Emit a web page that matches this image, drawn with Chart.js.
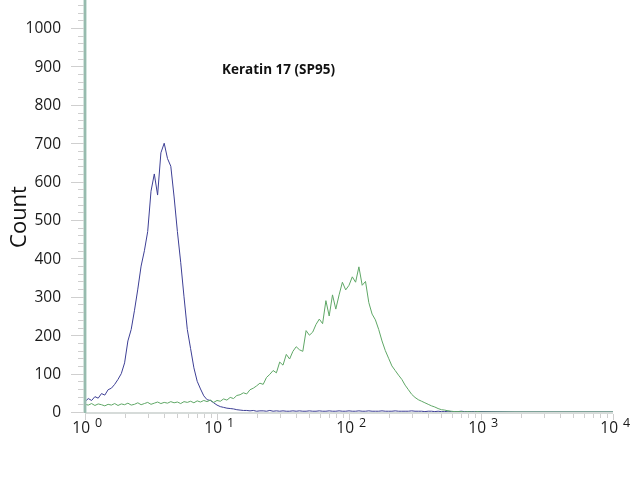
<!DOCTYPE html>
<html>
<head>
<meta charset="utf-8">
<script src="https://cdn.jsdelivr.net/npm/chart.js@4.4.1/dist/chart.umd.min.js"></script>
<style>
  html, body { margin: 0; padding: 0; background: #ffffff; }
  #wrap { width: 640px; height: 480px; }
</style>
</head>
<body>
<div id="wrap"><canvas id="c" width="640" height="480"></canvas></div>
<script>
// Fluorescence intensity, in decades (log10 of intensity): 0 = 10^0 ... 4 = 10^4
const logIntensity = [
  0.000, 0.025, 0.050, 0.075, 0.100, 0.125, 0.150, 0.175, 0.200, 0.225,
  0.250, 0.275, 0.300, 0.325, 0.350, 0.375, 0.400, 0.425, 0.450, 0.475,
  0.500, 0.525, 0.550, 0.575, 0.600, 0.625, 0.650, 0.675, 0.700, 0.725,
  0.750, 0.775, 0.800, 0.825, 0.850, 0.875, 0.900, 0.925, 0.950, 0.975,
  1.000, 1.025, 1.050, 1.075, 1.100, 1.125, 1.150, 1.175, 1.200, 1.225,
  1.250, 1.275, 1.300, 1.325, 1.350, 1.375, 1.400, 1.425, 1.450, 1.475,
  1.500, 1.525, 1.550, 1.575, 1.600, 1.625, 1.650, 1.675, 1.700, 1.725,
  1.750, 1.775, 1.800, 1.825, 1.850, 1.875, 1.900, 1.925, 1.950, 1.975,
  2.000, 2.025, 2.050, 2.075, 2.100, 2.125, 2.150, 2.175, 2.200, 2.225,
  2.250, 2.275, 2.300, 2.325, 2.350, 2.375, 2.400, 2.425, 2.450, 2.475,
  2.500, 2.525, 2.550, 2.575, 2.600, 2.625, 2.650, 2.675, 2.700, 2.725,
  2.750, 2.775, 2.800, 2.825, 2.850, 2.875, 2.900, 2.925, 2.950, 2.975,
  3.000, 3.250, 3.500, 3.750, 4.000
];

// Isotype control (blue)
const isotypeCounts = [
  27, 35, 30, 40, 36, 48, 44, 58, 62, 72,
  85, 100, 128, 185, 215, 265, 320, 380, 420, 470,
  575, 620, 565, 675, 700, 660, 640, 560, 470, 390,
  300, 215, 165, 115, 80, 60, 42, 32, 30, 24,
  18, 14, 12, 10, 9, 8, 6, 5, 4, 4,
  3, 4, 2, 3, 3, 2, 4, 2, 3, 2,
  3, 2, 2, 3, 2, 3, 2, 2, 3, 2,
  2, 3, 2, 2, 3, 2, 2, 3, 2, 2,
  3, 2, 2, 3, 2, 2, 3, 2, 2, 2,
  3, 2, 2, 2, 3, 2, 2, 2, 2, 3,
  2, 2, 2, 1, 2, 2, 1, 2, 1, 1,
  2, 1, 1, 1, 2, 1, 1, 1, 1, 1,
  1, 0, 0, 0, 0
];

// Keratin 17 (SP95) stained (green)
const keratinCounts = [
  20, 18, 22, 17, 21, 19, 16, 20, 18, 22,
  17, 21, 19, 23, 18, 20, 24, 19, 22, 25,
  20, 23, 26, 22, 25, 23, 27, 24, 26, 22,
  27, 25, 28, 24, 29, 26, 30, 27, 31, 25,
  30, 28, 34, 31, 38, 35, 43, 45, 50, 47,
  58, 62, 68, 75, 72, 90, 98, 108, 102, 130,
  122, 150, 138, 158, 170, 162, 158, 212, 200, 208,
  228, 242, 230, 290, 250, 305, 268, 305, 338, 318,
  330, 352, 338, 378, 330, 340, 285, 255, 240, 215,
  185, 160, 140, 120, 108, 96, 85, 70, 58, 46,
  38, 32, 28, 24, 20, 16, 13, 9, 6, 5,
  3, 2, 1, 1, 1, 0, 1, 0, 0, 1,
  0, 0, 0, 0, 0
];

const yTickValues = [0, 100, 200, 300, 400, 500, 600, 700, 800, 900, 1000];
const xDecades = [0, 1, 2, 3, 4];
const chartTitle = 'Keratin 17 (SP95)';
const yAxisTitle = 'Count';

const toPoints = (xs, ys) => xs.map((x, i) => ({ x: x, y: ys[i] }));

const decorPlugin = {
  id: 'decor',
  afterDatasetsDraw(chart) {
    const ctx = chart.ctx;
    const xs = chart.scales.x;
    const ys = chart.scales.y;
    const left = xs.getPixelForValue(0);
    const right = xs.getPixelForValue(4);
    const base = ys.getPixelForValue(0);
    ctx.save();

    // x axis line
    ctx.strokeStyle = '#c9cfcc';
    ctx.lineWidth = 1.5;
    ctx.beginPath();
    ctx.moveTo(left, base + 1);
    ctx.lineTo(right, base + 1);
    ctx.stroke();

    // y axis line (teal)
    ctx.strokeStyle = '#a8c9bd';
    ctx.lineWidth = 3;
    ctx.beginPath();
    ctx.moveTo(left, 0);
    ctx.lineTo(left, base + 1);
    ctx.stroke();
    ctx.strokeStyle = '#86ad9f';
    ctx.lineWidth = 1;
    ctx.beginPath();
    ctx.moveTo(left, 0);
    ctx.lineTo(left, base + 1);
    ctx.stroke();

    // y ticks: major every 100, minor every 20
    ctx.strokeStyle = '#cfcfcf';
    ctx.lineWidth = 1;
    for (let v = 0; v <= 1060; v += 20) {
      const py = Math.round(ys.getPixelForValue(v)) + 0.5;
      const len = (v % 100 === 0) ? 13 : 6;
      ctx.beginPath();
      ctx.moveTo(left - 1 - len, py);
      ctx.lineTo(left - 1, py);
      ctx.stroke();
    }

    // y labels
    ctx.fillStyle = '#1a1a1a';
    ctx.font = '15.5px "Open Sans", "DejaVu Sans", sans-serif';
    ctx.textAlign = 'right';
    ctx.textBaseline = 'middle';
    yTickValues.forEach(v => {
      ctx.fillText(String(v), 61, ys.getPixelForValue(v) + 1);
    });

    // x minor ticks at 2..9 in each decade, major at decades
    ctx.strokeStyle = '#cfcfcf';
    for (let n = 0; n < 4; n++) {
      for (let k = 2; k <= 9; k++) {
        const px = Math.round(xs.getPixelForValue(n + Math.log10(k))) + 0.5;
        ctx.beginPath();
        ctx.moveTo(px, base + 2);
        ctx.lineTo(px, base + 6);
        ctx.stroke();
      }
    }
    xDecades.forEach(n => {
      const px = Math.round(xs.getPixelForValue(n)) + 0.5;
      ctx.beginPath();
      ctx.moveTo(px, base + 2);
      ctx.lineTo(px, base + 8);
      ctx.stroke();
    });

    // x labels: 10 with superscript exponent
    ctx.fillStyle = '#1a1a1a';
    xDecades.forEach(n => {
      const px = xs.getPixelForValue(n);
      ctx.font = '15.5px "Open Sans", "DejaVu Sans", sans-serif';
      ctx.textAlign = 'right';
      ctx.textBaseline = 'middle';
      ctx.fillText('10', px + 5, base + 17);
      ctx.font = '12.5px "Open Sans", "DejaVu Sans", sans-serif';
      ctx.textAlign = 'left';
      ctx.fillText(String(n), px + 10, base + 11);
    });

    // y axis title
    ctx.save();
    ctx.translate(20, 217);
    ctx.rotate(-Math.PI / 2);
    ctx.font = '22px "Open Sans", "DejaVu Sans", sans-serif';
    ctx.textAlign = 'center';
    ctx.textBaseline = 'middle';
    ctx.fillStyle = '#111111';
    ctx.fillText(yAxisTitle, 0, 0);
    ctx.restore();

    // in-plot title
    ctx.font = 'bold 13.5px "Open Sans", "DejaVu Sans", sans-serif';
    ctx.textAlign = 'left';
    ctx.textBaseline = 'middle';
    ctx.fillStyle = '#111111';
    ctx.fillText(chartTitle, xs.getPixelForValue(1.038), ys.getPixelForValue(890));

    ctx.restore();
  }
};

new Chart(document.getElementById('c'), {
  type: 'line',
  data: {
    datasets: [
      {
        label: 'Keratin 17 (SP95)',
        data: toPoints(logIntensity, keratinCounts),
        borderColor: '#5fa766',
        borderWidth: 1,
        pointRadius: 0,
        tension: 0,
        fill: false
      },
      {
        label: 'Isotype control',
        data: toPoints(logIntensity, isotypeCounts),
        borderColor: '#3d3f95',
        borderWidth: 1,
        pointRadius: 0,
        tension: 0,
        fill: false
      }
    ]
  },
  options: {
    responsive: false,
    animation: false,
    devicePixelRatio: 1,
    layout: { padding: { left: 0, right: 27, top: 0, bottom: 0 } },
    plugins: { legend: { display: false }, tooltip: { enabled: false }, title: { display: false } },
    scales: {
      x: {
        type: 'linear',
        min: 0,
        max: 4,
        grid: { display: false, drawTicks: false },
        border: { display: false },
        ticks: { display: false },
        afterFit(scale) { scale.height = 68; }
      },
      y: {
        type: 'linear',
        min: 0,
        max: 1073,
        grid: { display: false, drawTicks: false },
        border: { display: false },
        ticks: { display: false },
        afterFit(scale) { scale.width = 85; }
      }
    }
  },
  plugins: [decorPlugin]
});
</script>
</body>
</html>
